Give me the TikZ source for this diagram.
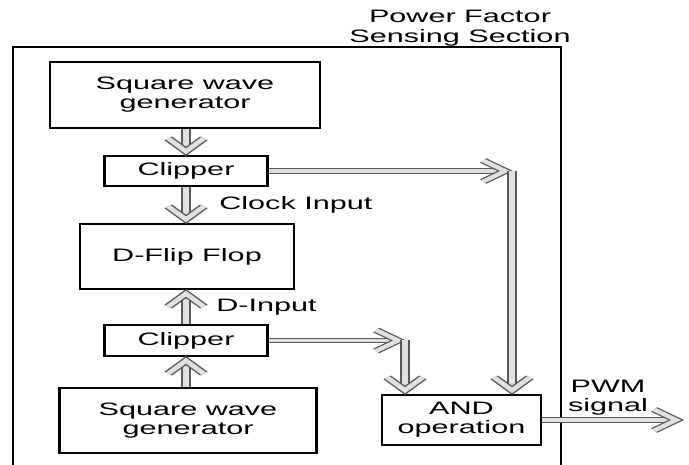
\documentclass[tikz,border=0pt]{standalone}
\usepackage{fontspec}
\setmainfont{Liberation Sans}
\usetikzlibrary{arrows.meta}
\colorlet{dblout}{black!65}
\colorlet{dblin}{black!12}
\pgfdeclarearrow{
  name = Chev,
  parameters = {\the\pgfarrowlength,\the\pgfarrowwidth},
  setup code = {
    \pgfarrowssettipend{4pt}
    \pgfarrowssetlineend{-3pt}
    \pgfarrowssetvisualbackend{-\pgfarrowlength}
    \pgfarrowssetbackend{-\pgfarrowlength}
    \pgfarrowssavethe\pgfarrowlength
    \pgfarrowssavethe\pgfarrowwidth
  },
  drawing code = {
    \pgfsetmiterjoin
    \pgfsetbuttcap
    \pgfsetdash{}{0pt}
    \pgfsetstrokecolor{dblout}
    \pgfsetlinewidth{5.8pt}
    \pgfpathmoveto{\pgfqpoint{-\pgfarrowlength}{.5\pgfarrowwidth}}
    \pgfpathlineto{\pgfqpoint{0pt}{0pt}}
    \pgfpathlineto{\pgfqpoint{-\pgfarrowlength}{-.5\pgfarrowwidth}}
    \pgfusepathqstroke
    \pgfsetstrokecolor{dblin}
    \pgfsetlinewidth{3.6pt}
    \pgfpathmoveto{\pgfqpoint{-\pgfarrowlength}{.5\pgfarrowwidth}}
    \pgfpathlineto{\pgfqpoint{0pt}{0pt}}
    \pgfpathlineto{\pgfqpoint{-\pgfarrowlength}{-.5\pgfarrowwidth}}
    \pgfusepathqstroke
  },
  defaults = {length = 13pt, width = 21pt}
}
\tikzset{
  bx/.style 2 args={draw=black, line width=1.3pt, inner sep=0pt, align=center,
    minimum width={#1/1.7*1pt}, minimum height={#2*1pt}},
  dbl/.style={draw=dblout, line width=1.1pt, double=dblin, double distance=3.6pt,
    -{Chev}},
  lbl/.style={inner sep=0pt},
  frame/.style={draw=black, line width=1.3pt}
}
\begin{document}
\begin{tikzpicture}[x=1pt, y=-1pt]
\useasboundingbox (0,0) rectangle (689,465);
\begin{scope}[transform canvas={xscale=1.7}, x=0.588235pt, y=-1pt,
  font=\fontsize{18}{19}\selectfont]
  % frame of the section
  \draw[frame] (13,465) -- (13,47) -- (561,47) -- (561,465);
  \node[lbl, align=center] (title) at (460,28.5) {Power Factor\\[1pt]Sensing Section};

  % blocks
  \node[bx={270}{66}] (sw1) at (185,95) {Square wave\\generator};
  \node[bx={163}{30}] (cl1) at (186,171) {Clipper};
  \node[bx={214}{65}] (dff) at (187,256.5) {D-Flip Flop};
  \node[bx={163}{31}] (cl2) at (186,340.5) {Clipper};
  \node[bx={257}{65}] (sw2) at (188,420.5) {Square wave\\generator};
  \node[bx={159}{50}] (and) at (461.5,420) {AND\\operation};

  % labels
  \node[lbl, anchor=base west] (clk) at (219,210) {Clock Input};
  \node[lbl, anchor=base west] (din) at (216,312) {D-Input};
  \node[lbl, align=center] (pwm) at (608,398) {PWM\\signal};

  % bend points and output end
  \coordinate (c1) at (512,171);
  \coordinate (c2) at (405,340.5);
  \coordinate (out) at (683,420);

  % connectors
  \draw[dbl] (cl1.north |- sw1.south) -- (cl1.north);
  \draw[dbl] (cl1.south) -- (cl1.south |- dff.north);
  \draw[dbl] (cl2.north) -- (cl2.north |- dff.south);
  \draw[dbl] (cl2.south |- sw2.north) -- (cl2.south);
  \draw[dbl] (cl1.east) -- (c1);
  \draw[dbl] (c1) -- (c1 |- and.north);
  \draw[dbl] (cl2.east) -- (c2);
  \draw[dbl] (c2) -- (c2 |- and.north);
  \draw[dbl] (and.east) -- (out);
\end{scope}
\end{tikzpicture}
\end{document}
